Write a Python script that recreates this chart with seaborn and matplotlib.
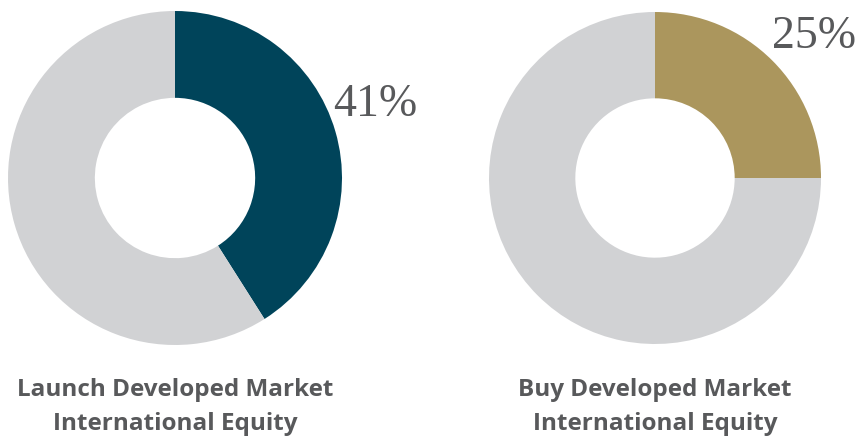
import matplotlib
matplotlib.use("Agg")
import matplotlib.pyplot as plt
import seaborn as sns

sns.set_theme(style="white")
plt.rcParams["font.family"] = ["Open Sans", "DejaVu Sans"]

# Allocation shares (percent) for each fund
labels = ["Launch Developed Market\nInternational Equity",
          "Buy Developed Market\nInternational Equity"]
shares = [41, 25]
accent_colors = ["#00445A", "#AB965D"]
rest_color = "#D1D2D4"
text_color = "#58595B"

W, H = 858, 436
fig = plt.figure(figsize=(W / 100, H / 100), dpi=100)

# centre x, centre y (pixels from top), radius, label anchor (data coords)
layout = [
    dict(cx=175, cy=178, r=167, lx=0.945, ly=0.37),
    dict(cx=655, cy=178, r=166, lx=0.705, ly=0.785),
]

for share, color, lab, geo in zip(shares, accent_colors, labels, layout):
    cx, cy, r = geo["cx"], geo["cy"], geo["r"]
    ax = fig.add_axes([(cx - r) / W, (H - cy - r) / H, 2 * r / W, 2 * r / H])
    ax.pie([share, 100 - share], colors=[color, rest_color], startangle=90,
           counterclock=False, radius=1.0,
           wedgeprops=dict(width=0.52, linewidth=0))
    ax.set_xlim(-1, 1)
    ax.set_ylim(-1, 1)
    ax.set_aspect("equal")
    ax.axis("off")
    ax.text(geo["lx"], geo["ly"], f"{share}%", ha="left", va="baseline",
            fontsize=33, color=text_color, family=["Liberation Serif"],
            clip_on=False)
    fig.text(cx / W, (H - 407) / H, lab, ha="center", va="center",
             fontsize=17.5, fontweight="bold", color=text_color,
             linespacing=1.52)

fig.savefig("out.png", dpi=100)
